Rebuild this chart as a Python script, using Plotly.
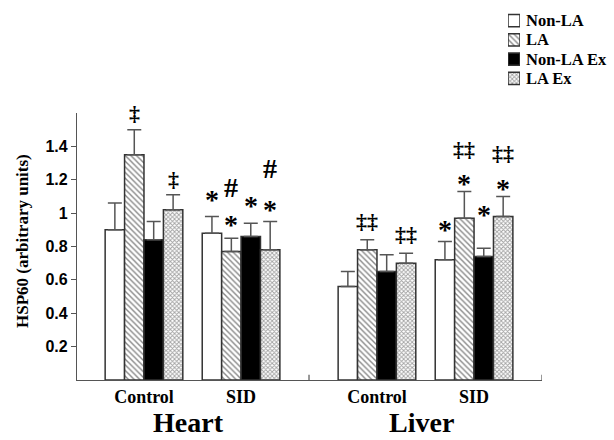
import plotly.graph_objects as go

# ---- data ----
tissues = ["Heart", "Liver"]
conditions = ["Control", "SID"]
series_names = ["Non-LA", "LA", "Non-LA Ex", "LA Ex"]

# order: Heart-Control, Heart-SID, Liver-Control, Liver-SID
non_la = [0.90, 0.88, 0.56, 0.72]
non_la_err = [0.16, 0.10, 0.09, 0.11]
la = [1.35, 0.77, 0.78, 0.97]
la_err = [0.15, 0.08, 0.06, 0.16]
non_la_ex = [0.84, 0.86, 0.65, 0.74]
non_la_ex_err = [0.11, 0.08, 0.10, 0.05]
la_ex = [1.02, 0.78, 0.70, 0.98]
la_ex_err = [0.09, 0.17, 0.06, 0.12]

y_ticks = [0.2, 0.4, 0.6, 0.8, 1, 1.2, 1.4]
y_ticktext = ["0.2", "0.4", "0.6", "0.8", "1", "1.2", "1.4"]

# significance markers: (group index, series index, symbol, y level)
markers = [
    (0, 1, "‡", 1.60),
    (0, 3, "‡", 1.20),
    (1, 0, "*", 1.12),
    (1, 1, "*", 0.965),
    (1, 1, "#", 1.155),
    (1, 2, "*", 1.08),
    (1, 3, "*", 1.055),
    (1, 3, "#", 1.27),
    (2, 1, "‡‡", 0.952),
    (2, 3, "‡‡", 0.874),
    (3, 0, "*", 0.94),
    (3, 1, "*", 1.215),
    (3, 1, "‡‡", 1.383),
    (3, 2, "*", 1.025),
    (3, 3, "*", 1.186),
    (3, 3, "‡‡", 1.36),
]

# ---- layout helpers ----
W, H = 614, 440
plot_left, plot_right, plot_top, plot_bottom = 77, 542, 113, 380
tissue_gap = 2.4
bar_w = 0.2
offsets = [-0.3, -0.1, 0.1, 0.3]
group_x = [t * tissue_gap + c for t in range(len(tissues)) for c in range(len(conditions))]
group_labels = [c for t in tissues for c in conditions]

values = [non_la, la, non_la_ex, la_ex]
errors = [non_la_err, la_err, non_la_ex_err, la_ex_err]

edge = "#333333"
styles = [
    dict(color="white", pattern=None),
    dict(color="white", pattern=dict(shape="\\", fgcolor="#111111", bgcolor="white", size=4, solidity=0.35)),
    dict(color="black", pattern=None),
    dict(color="white", pattern=dict(shape="x", fgcolor="#444444", bgcolor="white", size=3, solidity=0.5)),
]

serif = "Liberation Serif"
sans = "Liberation Sans"


def make_marker(s):
    m = dict(color=styles[s]["color"], line=dict(color=edge, width=1.5))
    if styles[s]["pattern"] is not None:
        m["pattern"] = styles[s]["pattern"]
    return m


fig = go.Figure()
for s, name in enumerate(series_names):
    fig.add_trace(go.Bar(
        name=name, showlegend=False,
        x=[gx + offsets[s] for gx in group_x],
        y=values[s],
        width=bar_w,
        marker=make_marker(s),
        error_y=dict(type="data", array=errors[s], arrayminus=[0] * len(errors[s]),
                     symmetric=False, color="#555555", thickness=1.5, width=7),
        xaxis="x", yaxis="y",
    ))

# custom legend swatches (drawn as bars on a tiny axis pair)
for s, name in enumerate(series_names):
    fig.add_trace(go.Bar(
        orientation="h", showlegend=False, hoverinfo="skip",
        x=[1], y=[s], width=0.64, marker=make_marker(s),
        xaxis="x2", yaxis="y2",
    ))

annotations = []
for g, s, sym, yv in markers:
    big = sym in ("*", "#")
    annotations.append(dict(
        x=group_x[g] + offsets[s], y=yv, xref="x", yref="y", text=sym,
        showarrow=False, yanchor="middle",
        yshift=-6 if sym == "*" else 0,
        font=dict(family=serif, size=28 if big else 22, color="black", weight="bold"),
    ))

for t, name in enumerate(tissues):
    annotations.append(dict(
        x=t * tissue_gap + 0.46, y=0, xref="x", yref="paper", text=name,
        showarrow=False, yanchor="bottom",
        font=dict(family=serif, size=28, color="black", weight="bold"),
    ))

annotations.append(dict(
    x=22 / W, y=(H - 241) / H, xref="paper", yref="paper", text="HSP60 (arbitrary units)",
    textangle=-90, showarrow=False, xanchor="center", yanchor="middle",
    font=dict(family=serif, size=17, color="black", weight="bold"),
))

for s, name in enumerate(series_names):
    annotations.append(dict(
        x=1, y=s, xref="x2", yref="y2", text=name, xanchor="left", yanchor="middle",
        xshift=4, showarrow=False,
        font=dict(family=serif, size=16.5, color="black", weight="bold"),
    ))

# boundary tick marks on the x axis
shapes = []
for t in range(len(tissues)):
    xb = t * tissue_gap + 1.7
    shapes.append(dict(type="line", xref="x", yref="y domain", x0=xb, x1=xb, y0=0, y1=0.02,
                       line=dict(color="#555555", width=1.2)))

row_h = 19.2
leg_top_center = 20.7
leg_y0 = H - (leg_top_center + row_h * 3.5)
leg_y1 = H - (leg_top_center - row_h * 0.5)

fig.update_layout(
    width=W, height=H,
    margin=dict(l=0, r=0, t=0, b=0, autoexpand=False),
    paper_bgcolor="white", plot_bgcolor="white",
    barmode="overlay",
    showlegend=False,
    xaxis=dict(domain=[plot_left / W, plot_right / W], anchor="y",
               range=[-0.69, 4.1], showline=True, linecolor="#555555", linewidth=1.2,
               tickvals=group_x, ticktext=group_labels, ticks="", showgrid=False, zeroline=False,
               tickfont=dict(family=serif, size=18, color="black", weight="bold")),
    yaxis=dict(domain=[(H - plot_bottom) / H, (H - plot_top) / H], anchor="x",
               range=[0, 1.6], showline=True, linecolor="#555555", linewidth=1.2,
               tickvals=y_ticks, ticktext=y_ticktext, ticks="outside", ticklen=5,
               tickcolor="#555555", showgrid=False, zeroline=False,
               tickfont=dict(family=sans, size=16, color="black", weight="bold")),
    xaxis2=dict(domain=[508 / W, 520 / W], anchor="y2", range=[0, 1], visible=False, fixedrange=True),
    yaxis2=dict(domain=[leg_y0 / H, leg_y1 / H], anchor="x2", range=[3.5, -0.5], visible=False,
                fixedrange=True),
    annotations=annotations,
    shapes=shapes,
)

fig.write_html("out.html", config={"displayModeBar": False},
               post_script="document.body.style.margin='0px';document.body.style.overflow='hidden';")
